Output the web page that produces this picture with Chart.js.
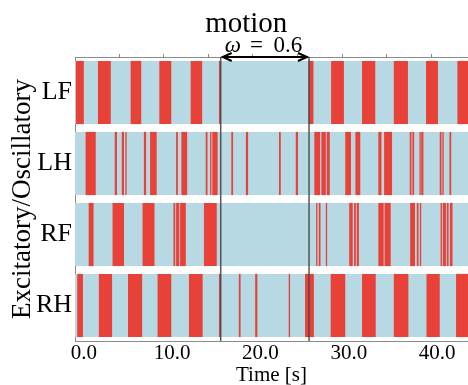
<!DOCTYPE html>
<html><head><meta charset="utf-8">
<script src="https://cdn.jsdelivr.net/npm/chart.js@4"></script>
<style>html,body{margin:0;padding:0;background:#fff}#wrap{width:468px;height:385px}</style>
</head><body><div id="wrap"><canvas id="c" width="468" height="385"></canvas></div>
<script>
// ---- data ----
const rows = ['LF', 'LH', 'RF', 'RH'];
const timeRange = [-1.0, 43.5];
const xTickValues = [0, 10, 20, 30, 40];
const topTickValues = [4.0, 9.05, 14.1, 19.15, 24.2, 29.25, 34.3, 39.35];
const motionWindow = [15.5, 25.5];
const motionTitle = 'motion';
const omegaValue = '0.6';
const yTitle = 'Excitatory/Oscillatory';
const xTitle = 'Time [s]';

const LF = [[-0.9,0.0],[1.6,3.05],[5.3,6.5],[8.55,9.9],[12.1,13.4],[15.3,15.5],[25.45,26.0],[28.0,29.45],[31.5,33.0],[35.1,36.7],[38.75,40.1],[42.3,43.5]];
const LH = [[0.2,1.35],[3.5,3.75],[4.3,4.55],[4.7,4.85],[6.8,7.05],[7.5,8.25],[10.45,10.65],[11.05,11.7],[13.8,14.0],[14.3,14.45],[14.55,15.15],[16.7,16.9],[18.35,18.6],[22.1,22.3],[24.0,24.25],[26.1,26.75],[26.9,27.4],[27.5,27.85],[29.6,30.25],[30.75,31.3],[33.35,33.7],[34.0,34.9],[36.9,37.1],[37.2,37.4],[38.0,38.15],[38.2,38.45],[40.3,40.5],[40.6,40.75],[41.4,41.6]];
const RF = [[0.55,1.1],[3.25,4.55],[6.65,8.0],[10.15,10.35],[10.45,10.8],[10.9,11.55],[13.6,15.05],[26.3,26.45],[26.6,26.8],[27.4,27.55],[30.05,30.45],[30.6,30.8],[30.9,31.15],[33.35,33.95],[34.05,34.75],[36.95,37.5],[37.7,37.9],[38.05,38.2],[40.4,40.55],[40.65,41.0],[41.1,41.3],[41.45,41.75]];
const RH = [[-0.75,-0.1],[1.7,3.2],[5.0,6.6],[8.35,9.9],[11.9,13.45],[15.3,15.5],[17.55,17.75],[19.4,19.65],[23.2,23.35],[25.05,26.05],[27.95,29.6],[31.5,33.05],[35.1,36.75],[38.8,40.3],[42.15,43.5]];
const segments = {LF: LF, LH: LH, RF: RF, RH: RH};

// ---- styles ----
const RED = 'rgb(232,65,56)';
const BLUE = 'rgb(182,217,227)';
const GRAY = '#8a8a8a';
const SERIF = '"Liberation Serif", "DejaVu Serif", serif';

const redData = [];
rows.forEach(r => segments[r].forEach(s => redData.push({x: s, y: r})));
const blueData = rows.map(r => ({x: timeRange, y: r}));

const motionPlugin = {
  id: 'motion',
  afterDatasetsDraw(chart) {
    const {ctx, chartArea} = chart;
    const xs = chart.scales.x;
    const x1 = xs.getPixelForValue(motionWindow[0]);
    const x2 = xs.getPixelForValue(motionWindow[1]);
    ctx.save();
    // vertical lines
    ctx.strokeStyle = 'rgba(70,70,70,0.9)';
    ctx.lineWidth = 1.5;
    [x1, x2].forEach(x => {
      ctx.beginPath();
      ctx.moveTo(x, chartArea.top);
      ctx.lineTo(x, chartArea.bottom);
      ctx.stroke();
    });
    // double arrow
    const y = chartArea.top;
    const a = x1 + 2, b = x2 - 2;
    ctx.strokeStyle = '#000';
    ctx.lineWidth = 2;
    ctx.beginPath();
    ctx.moveTo(a, y); ctx.lineTo(b, y);
    ctx.moveTo(a + 9, y - 4); ctx.lineTo(a, y); ctx.lineTo(a + 9, y + 4);
    ctx.moveTo(b - 9, y - 4); ctx.lineTo(b, y); ctx.lineTo(b - 9, y + 4);
    ctx.stroke();
    // omega label
    const cx = (x1 + x2) / 2;
    const base = y - 5;
    ctx.fillStyle = '#000';
    ctx.textAlign = 'center';
    ctx.textBaseline = 'alphabetic';
    ctx.font = 'italic 23px ' + SERIF;
    ctx.fillText('\u03C9', cx - 32, base);
    ctx.font = '23px ' + SERIF;
    ctx.fillText('=', cx - 8.5, base);
    ctx.fillText(omegaValue, cx + 23, base);
    // motion title
    ctx.font = '29px ' + SERIF;
    ctx.fillText(motionTitle, x1 + 25.5, 32);
    ctx.restore();
  }
};

new Chart(document.getElementById('c'), {
  type: 'bar',
  data: {
    labels: rows,
    datasets: [
      {label: 'active', data: redData, backgroundColor: RED, borderWidth: 0, grouped: false, order: 0,
       barPercentage: 0.89, categoryPercentage: 1.0, xAxisID: 'x', yAxisID: 'y'},
      {label: 'idle', data: blueData, backgroundColor: BLUE, borderWidth: 0, grouped: false, order: 1,
       barPercentage: 0.89, categoryPercentage: 1.0, xAxisID: 'x', yAxisID: 'y'}
    ]
  },
  options: {
    indexAxis: 'y',
    responsive: false,
    animation: false,
    layout: {padding: {top: 54, left: 0, right: 0, bottom: 0}},
    plugins: {legend: {display: false}, tooltip: {enabled: false}, title: {display: false}},
    scales: {
      y: {
        type: 'category', position: 'left', offset: true,
        grid: {display: false, drawTicks: false},
        border: {display: true, color: GRAY, width: 1},
        ticks: {color: '#000', font: {family: SERIF, size: 26}, padding: 3},
        title: {display: true, text: yTitle, color: '#000', font: {family: SERIF, size: 27}, padding: {top: 7, bottom: 0}},
        afterFit(s) { s.width = 75; }
      },
      x: {
        type: 'linear', position: 'bottom', min: timeRange[0], max: timeRange[1],
        grid: {display: false, drawTicks: false},
        border: {display: true, color: GRAY, width: 1},
        ticks: {color: '#000', font: {family: SERIF, size: 21}, padding: 0, maxRotation: 0, autoSkip: false,
                callback: v => Number(v).toFixed(1)},
        afterBuildTicks(s) { s.ticks = xTickValues.map(v => ({value: v})); },
        title: {display: true, text: xTitle, color: '#000', font: {family: SERIF, size: 21, lineHeight: 0.9}, padding: 0},
        afterFit(s) { s.height = 44; }
      },
      xTop: {
        type: 'linear', position: 'top', axis: 'x', min: timeRange[0], max: timeRange[1],
        grid: {display: true, drawOnChartArea: false, drawTicks: true, tickLength: 3, color: GRAY},
        border: {display: true, color: GRAY, width: 1},
        ticks: {display: false},
        afterBuildTicks(s) { s.ticks = topTickValues.map(v => ({value: v})); },
        afterFit(s) { s.height = 3; }
      }
    }
  },
  plugins: [motionPlugin]
});
</script>
</body></html>
